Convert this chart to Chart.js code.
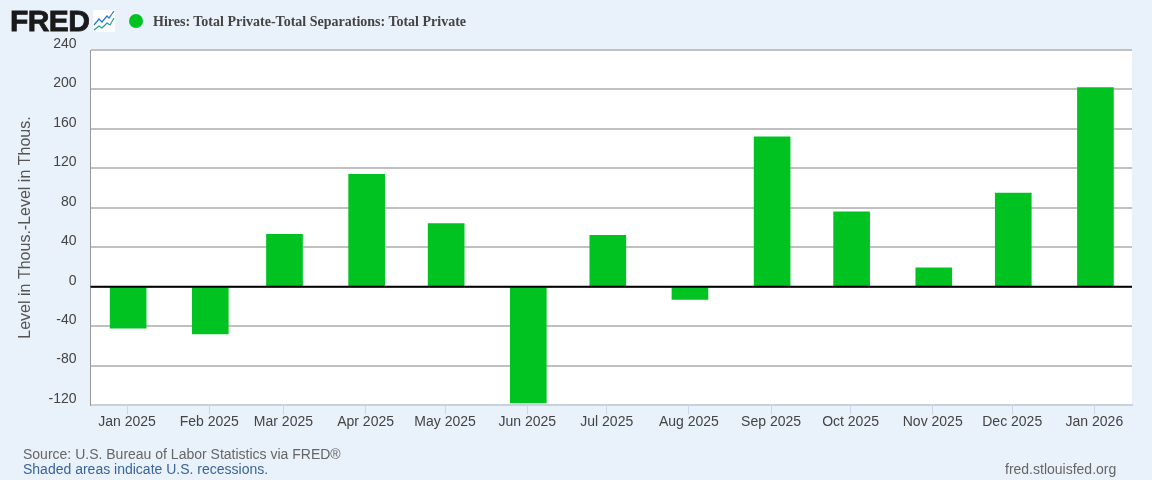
<!DOCTYPE html>
<html>
<head>
<meta charset="utf-8">
<script src="https://cdn.jsdelivr.net/npm/chart.js@4"></script>
<style>
html, body { margin: 0; padding: 0; background: #e9f1fa; }
#wrap { position: relative; width: 1152px; height: 480px; overflow: hidden; font-family: "Liberation Sans", Arial, sans-serif; }
#wrap canvas#c { position: absolute; left: 0; top: 0; }
.t { position: absolute; white-space: nowrap; }
#logo { left: 10px; top: 4px; font-size: 30px; font-weight: bold; color: #1a1a1a; letter-spacing: -0.6px; -webkit-text-stroke: 0.8px #1a1a1a; }
#icon { position: absolute; left: 93px; top: 10px; }
#dot { position: absolute; left: 129px; top: 14px; width: 14px; height: 14px; border-radius: 50%; background: #00c322; }
#title { left: 153px; top: 14px; font-family: "Liberation Serif", serif; font-size: 14px; font-weight: bold; color: #444; }
#source { left: 23px; top: 446px; font-size: 14px; color: #666; }
#shaded { left: 23px; top: 461px; font-size: 14px; color: #3a6599; }
#site { left: 1005px; top: 461px; font-size: 14px; color: #666; }
</style>
</head>
<body>
<div id="wrap">
  <canvas id="c" width="1152" height="480"></canvas>
  <div class="t" id="logo">FRED</div>
  <svg id="icon" width="22" height="22" viewBox="0 0 22 22">
    <rect width="22" height="22" rx="1" fill="#fff"/>
    <polyline points="1,15 6,9 9,12 14,6 16,8 21,1" fill="none" stroke="#1f78d8" stroke-width="1.2"/>
    <polyline points="1,20 6,16 9,18 14,13 17,15 21,8" fill="none" stroke="#1f9e89" stroke-width="1.2"/>
  </svg>
  <div id="dot"></div>
  <div class="t" id="title">Hires: Total Private-Total Separations: Total Private</div>
  <div class="t" id="source">Source: U.S. Bureau of Labor Statistics via FRED®</div>
  <div class="t" id="shaded">Shaded areas indicate U.S. recessions.</div>
  <div class="t" id="site">fred.stlouisfed.org</div>
</div>
<script>
// months on the x axis, with the label shown under each one
var months = ['2025-01-01', '2025-02-01', '2025-03-01', '2025-04-01', '2025-05-01', '2025-06-01', '2025-07-01',
    '2025-08-01', '2025-09-01', '2025-10-01', '2025-11-01', '2025-12-01', '2026-01-01'];
var monthLabels = ['Jan 2025', 'Feb 2025', 'Mar 2025', 'Apr 2025', 'May 2025', 'Jun 2025', 'Jul 2025',
    'Aug 2025', 'Sep 2025', 'Oct 2025', 'Nov 2025', 'Dec 2025', 'Jan 2026'];
var values = [-42, -48, 53, 114, 64, -118, 52, -13, 152, 76, 19, 95, 202];
var yTicks = [240, 200, 160, 120, 80, 40, 0, -40, -80, -120];

var DAY = 86400000;
var times = months.map(function (m) { return Date.parse(m); });
var points = times.map(function (t, i) { return { x: t, y: values[i] }; });

// white plot background, and the zero line on top of the bars
var plotArea = {
    id: 'plotArea',
    beforeDraw: function (chart) {
        var a = chart.chartArea, ctx = chart.ctx;
        ctx.save();
        ctx.fillStyle = '#fff';
        ctx.fillRect(a.left, a.top, a.right - a.left, a.bottom - a.top);
        ctx.restore();
    },
    afterDatasetsDraw: function (chart) {
        var a = chart.chartArea, ctx = chart.ctx;
        var y0 = chart.scales.y.getPixelForValue(0);
        ctx.save();
        ctx.strokeStyle = '#000';
        ctx.lineWidth = 2;
        ctx.beginPath();
        ctx.moveTo(a.left, y0);
        ctx.lineTo(a.right, y0);
        ctx.stroke();
        ctx.restore();
    }
};

new Chart(document.getElementById('c'), {
    type: 'bar',
    data: {
        datasets: [{
            data: points,
            backgroundColor: '#00c322',
            borderWidth: 0,
            barThickness: 36
        }]
    },
    plugins: [plotArea],
    options: {
        responsive: false,
        animation: false,
        layout: { padding: { top: 50, right: 20, bottom: 0, left: 16 } },
        plugins: { legend: { display: false }, tooltip: { enabled: false } },
        scales: {
            x: {
                type: 'linear',
                offset: false,
                min: times[0] - 14.2 * DAY,
                max: times[12] + 13.8 * DAY,
                afterBuildTicks: function (axis) {
                    axis.ticks = times.map(function (t) { return { value: t - 0.4 * DAY }; });
                },
                afterFit: function (axis) { axis.height = 75; },
                grid: { offset: false, drawOnChartArea: false, tickColor: '#ccd6eb', tickLength: 9, lineWidth: 1 },
                border: { color: '#c8d2de', width: 2 },
                ticks: {
                    autoSkip: false,
                    maxRotation: 0,
                    color: '#444',
                    font: { family: '"Liberation Sans"', size: 14 },
                    padding: 0,
                    callback: function (v, i) { return monthLabels[i]; }
                }
            },
            y: {
                min: -120,
                max: 240,
                afterBuildTicks: function (axis) {
                    axis.ticks = yTicks.map(function (v) { return { value: v }; });
                },
                afterFit: function (axis) { axis.width = 74.5; },
                grid: {
                    drawTicks: false,
                    lineWidth: 2,
                    color: '#c0c0c0'
                },
                border: { color: '#999', width: 1 },
                ticks: {
                    color: '#444',
                    font: { family: '"Liberation Sans"', size: 14 },
                    padding: 14,
                    labelOffset: -6
                },
                title: {
                    display: true,
                    text: 'Level in Thous.-Level in Thous.',
                    color: '#555',
                    font: { family: '"Liberation Sans"', size: 16 },
                    padding: 0
                }
            }
        }
    }
});
</script>
</body>
</html>
